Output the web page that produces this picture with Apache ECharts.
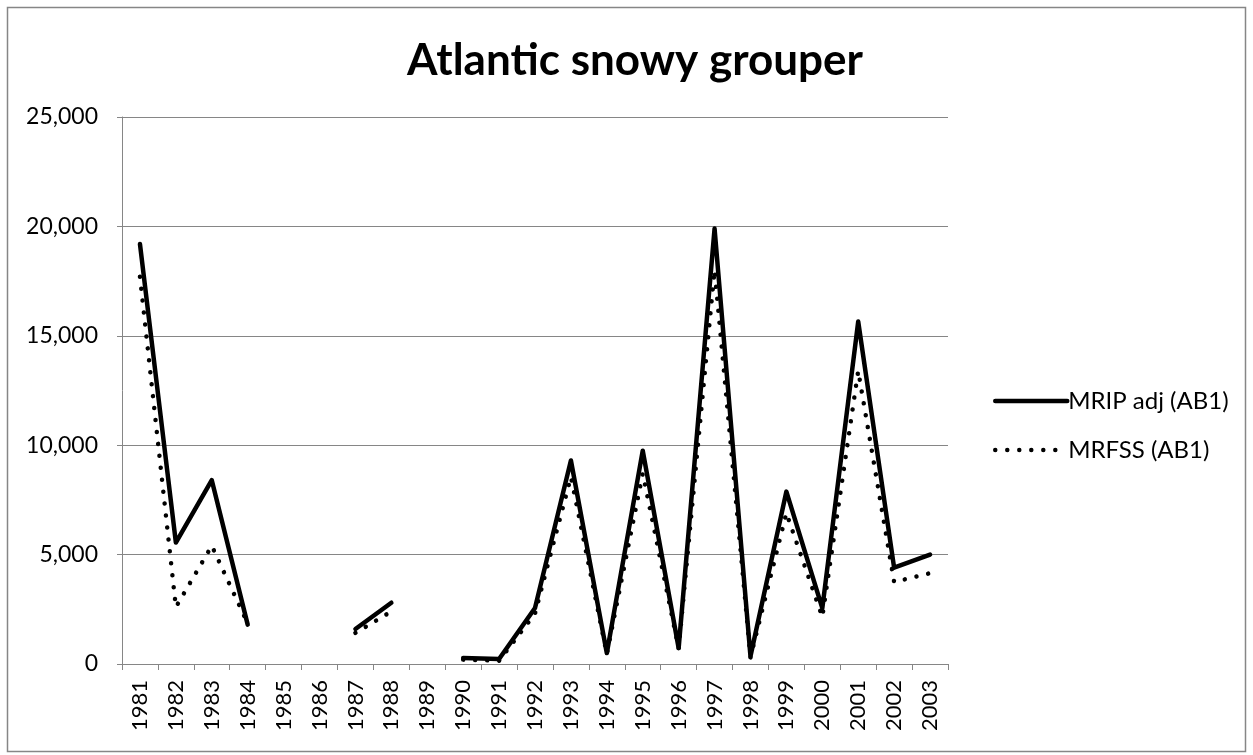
<!DOCTYPE html>
<html><head><meta charset="utf-8">
<script src="https://cdn.jsdelivr.net/npm/echarts@6/dist/echarts.min.js"></script>
<style>html,body{margin:0;padding:0;background:#fff}#c{width:1253px;height:755px}</style>
</head><body><div id="c"></div>
<script>
const years = ['1981','1982','1983','1984','1985','1986','1987','1988','1989','1990','1991','1992','1993','1994','1995','1996','1997','1998','1999','2000','2001','2002','2003'];
const mripAdj = [19200, 5550, 8400, 1800, null, null, 1600, 2800, null, 270, 230, 2560, 9300, 500, 9750, 730, 19900, 350, 7880, 2550, 15650, 4400, 5000];
const mrfss = [17700, 2600, 5400, 1850, null, null, 1420, 2400, null, 200, 150, 2300, 8550, 450, 8700, 700, 18000, 300, 6900, 2150, 13400, 3750, 4150];
const yTicks = [0, 5000, 10000, 15000, 20000, 25000];

const FONT = 'Lato, "Open Sans", sans-serif';
const DOT = [0.01, 12];
const chart = echarts.init(document.getElementById('c'));
chart.setOption({
  animation: false,
  backgroundColor: '#fff',
  title: {
    text: 'Atlantic snowy grouper',
    left: 630, top: 34, textAlign: 'center',
    textStyle: { fontFamily: FONT, fontWeight: 'bold', fontSize: 44, color: '#000' }
  },
  graphic: [{
    type: 'rect', shape: { x: 7.5, y: 7.5, width: 1238, height: 744 },
    style: { fill: 'none', stroke: '#868686', lineWidth: 1.5 }, z: 100
  }],
  legend: {
    orient: 'vertical', left: 988, top: 384,
    itemWidth: 72, itemHeight: 24, itemGap: 25,
    itemStyle: { opacity: 0, color: 'rgba(0,0,0,0)', borderWidth: 0 },
    textStyle: { fontFamily: FONT, fontSize: 24, color: '#000', padding: [0, 0, 0, -4] },
    data: [
      { name: 'MRIP adj (AB1)', lineStyle: { color: '#000', width: 4.5, type: 'solid', cap: 'round' } },
      { name: 'MRFSS (AB1)', lineStyle: { color: '#000', width: 4.5, type: DOT, cap: 'round' } }
    ]
  },
  grid: { left: 122, right: 305, top: 117, bottom: 91, containLabel: false },
  xAxis: {
    type: 'category', data: years, boundaryGap: true,
    axisLine: { lineStyle: { color: '#868686', width: 1 } },
    axisTick: { show: true, length: 6, interval: 0, lineStyle: { color: '#868686' } },
    axisLabel: { rotate: 90, interval: 0, fontFamily: FONT, fontSize: 22, color: '#000', margin: 16 }
  },
  yAxis: {
    type: 'value', min: 0, max: 25000, interval: 5000,
    axisLine: { show: true, lineStyle: { color: '#868686', width: 1 } },
    axisTick: { show: true, length: 5, lineStyle: { color: '#868686' } },
    splitLine: { lineStyle: { color: '#868686', width: 1 } },
    axisLabel: {
      fontFamily: FONT, fontSize: 23, color: '#000', margin: 24,
      formatter: v => yTicks.includes(v) ? v.toLocaleString('en-US') : ''
    }
  },
  series: [
    {
      name: 'MRIP adj (AB1)', type: 'line', data: mripAdj, connectNulls: false,
      showSymbol: false, symbol: 'none',
      lineStyle: { color: '#000', width: 4.5, cap: 'round', join: 'round' },
      itemStyle: { color: '#000' }
    },
    {
      name: 'MRFSS (AB1)', type: 'line', data: mrfss, connectNulls: false,
      showSymbol: false, symbol: 'none',
      lineStyle: { color: '#000', width: 4.5, type: DOT, cap: 'round', join: 'round' },
      itemStyle: { color: '#000' }
    }
  ]
});
</script></body></html>
